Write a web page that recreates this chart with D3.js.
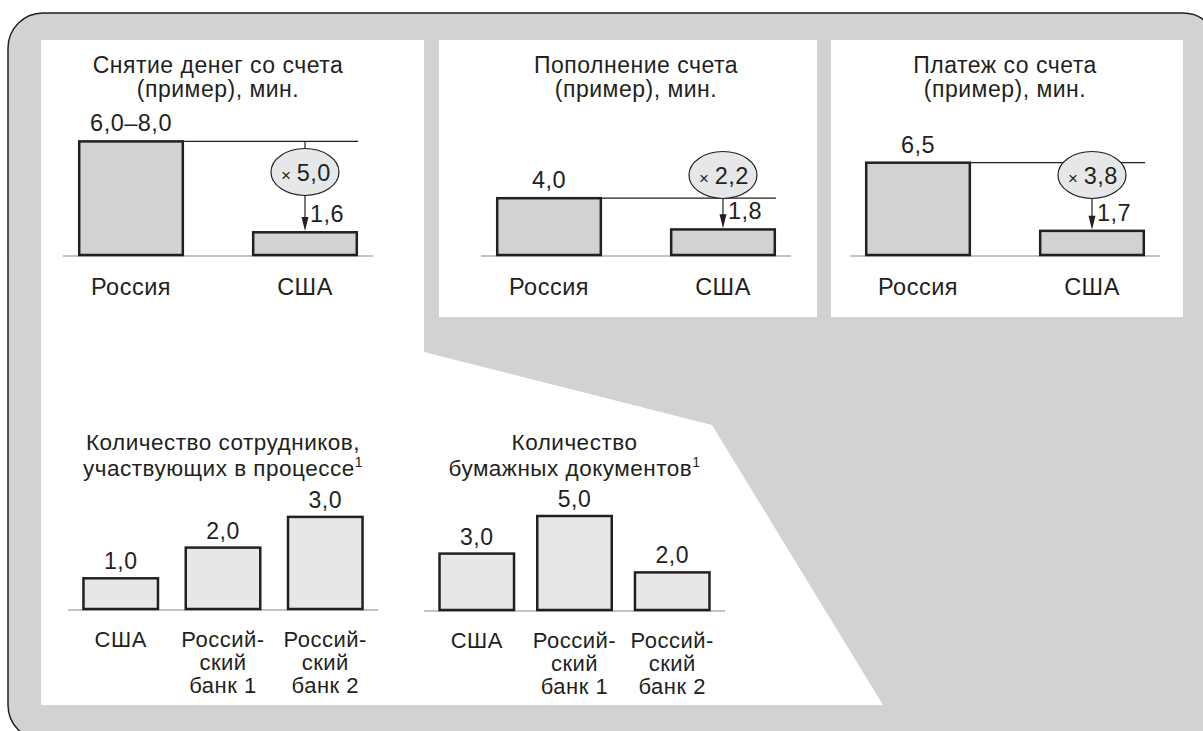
<!DOCTYPE html>
<html>
<head>
<meta charset="utf-8">
<script src="https://cdn.jsdelivr.net/npm/d3@7"></script>
<style>
  body { margin: 0; background: #fff; }
  text { font-family: "Liberation Sans", Arial, sans-serif; fill: #231f20; letter-spacing: 0.5px; }
</style>
</head>
<body>
<script>
// data
var topCategories = ["Россия", "США"];
var withdrawValues = [8.0, 1.6];
var withdrawRange = [6.0, 8.0];
var depositValues = [4.0, 1.8];
var paymentValues = [6.5, 1.7];
var topTitles = [
  ["Снятие денег со счета", "(пример), мин."],
  ["Пополнение счета", "(пример), мин."],
  ["Платеж со счета", "(пример), мин."]
];

var bottomCategories = [["США"], ["Россий-", "ский", "банк 1"], ["Россий-", "ский", "банк 2"]];
var staffValues = [1.0, 2.0, 3.0];
var docValues = [3.0, 5.0, 2.0];
var bottomTitles = [
  ["Количество сотрудников,", "участвующих в процессе"],
  ["Количество", "бумажных документов"]
];

var W = 1203, H = 731;
var ink = "#231f20", grey = "#d1d2d4", light = "#e6e7e8", axisGrey = "#c2c3c5";

var ru = d3.formatLocale({decimal: ",", thousands: " ", grouping: [3], currency: ["", ""]});
var fmt = ru.format(".1f");

var svg = d3.select("body").append("svg")
  .attr("width", W)
  .attr("height", H);

// background frame
svg.append("rect")
  .attr("x", 8).attr("y", 13)
  .attr("width", 1210).attr("height", 727)
  .attr("rx", 35).attr("ry", 35)
  .attr("fill", grey)
  .attr("stroke", ink)
  .attr("stroke-width", 1.5);

// white panels
svg.append("path")
  .attr("d", d3.line()([[41, 40], [424, 40], [424, 352], [712, 425], [883, 705], [41, 705]]) + "Z")
  .attr("fill", "#fff");
svg.append("rect").attr("x", 439).attr("y", 40).attr("width", 378).attr("height", 277).attr("fill", "#fff");
svg.append("rect").attr("x", 831).attr("y", 40).attr("width", 352).attr("height", 277).attr("fill", "#fff");

// top charts
var topCharts = [
  {values: withdrawValues, labels: [fmt(withdrawRange[0]) + "–" + fmt(withdrawRange[1]), fmt(withdrawValues[1])], range: [63, 373], ovalY: 172},
  {values: depositValues, labels: depositValues.map(fmt), range: [481, 791], ovalY: 175},
  {values: paymentValues, labels: paymentValues.map(fmt), range: [850, 1160], ovalY: 175}
];
var topBase = 255;
var yTop = d3.scaleLinear().domain([0, 8]).range([topBase, topBase - 113.6]);

topCharts.forEach(function(c, i) {
  var x = d3.scaleBand()
    .domain(topCategories)
    .range(c.range)
    .paddingInner(0.39)
    .paddingOuter(0.086);
  var g = svg.append("g");
  var mid = (c.range[0] + c.range[1]) / 2;

  g.append("text")
    .attr("x", mid).attr("y", 73)
    .attr("text-anchor", "middle")
    .style("font-size", "23px")
    .text(topTitles[i][0]);
  g.append("text")
    .attr("x", mid).attr("y", 97)
    .attr("text-anchor", "middle")
    .style("font-size", "23px")
    .text(topTitles[i][1]);

  g.append("line")
    .attr("x1", c.range[0]).attr("x2", c.range[1])
    .attr("y1", topBase + 1).attr("y2", topBase + 1)
    .attr("stroke", axisGrey).attr("stroke-width", 2);

  var rows = topCategories.map(function(k, j) { return {cat: k, v: c.values[j], label: c.labels[j]}; });

  // reference line from the Russia bar top to the US bar right edge
  var refY = yTop(rows[0].v);
  g.append("line")
    .attr("x1", x(rows[0].cat) + x.bandwidth()).attr("x2", x(rows[1].cat) + x.bandwidth())
    .attr("y1", refY).attr("y2", refY)
    .attr("stroke", ink).attr("stroke-width", 1.2);

  g.selectAll(".bar")
    .data(rows)
    .enter().append("rect")
    .attr("x", function(d) { return x(d.cat) + 1.25; })
    .attr("y", function(d) { return yTop(d.v); })
    .attr("width", x.bandwidth() - 2.5)
    .attr("height", function(d) { return topBase - yTop(d.v); })
    .attr("fill", grey)
    .attr("stroke", ink)
    .attr("stroke-width", 2.5);

  g.selectAll(".cat")
    .data(rows)
    .enter().append("text")
    .attr("x", function(d) { return x(d.cat) + x.bandwidth() / 2; })
    .attr("y", topBase + 40)
    .attr("text-anchor", "middle")
    .style("font-size", "23.5px")
    .text(function(d) { return d.cat; });

  // Russia value label
  g.append("text")
    .attr("x", x(rows[0].cat) + x.bandwidth() / 2)
    .attr("y", yTop(rows[0].v) - 10)
    .attr("text-anchor", "middle")
    .style("font-size", "23.5px")
    .text(rows[0].label);

  // arrow + ratio oval
  var cx = x(rows[1].cat) + x.bandwidth() / 2;
  var barTop = yTop(rows[1].v) - 1.2;
  g.append("line")
    .attr("x1", cx).attr("x2", cx)
    .attr("y1", refY).attr("y2", barTop - 10)
    .attr("stroke", ink).attr("stroke-width", 1.2);
  g.append("path")
    .attr("d", d3.line()([[cx - 3.5, barTop - 14], [cx + 3.5, barTop - 14], [cx, barTop]]) + "Z")
    .attr("fill", ink);
  g.append("ellipse")
    .attr("cx", cx).attr("cy", c.ovalY)
    .attr("rx", 34).attr("ry", 23.5)
    .attr("fill", light)
    .attr("stroke", ink).attr("stroke-width", 1.2);
  var t = g.append("text")
    .attr("x", cx + 1).attr("y", c.ovalY + 8.5)
    .attr("text-anchor", "middle");
  t.append("tspan").style("font-size", "17px").text("× ");
  t.append("tspan").style("font-size", "23.5px").text(fmt(rows[0].v / rows[1].v));

  g.append("text")
    .attr("x", cx + 5).attr("y", barTop - 9)
    .style("font-size", "23.5px")
    .text(rows[1].label);
});

// bottom charts
var bottomCharts = [
  {values: staffValues, range: [68, 378], base: 609, unit: 30.7, pin: 0.247, pout: 0.139},
  {values: docValues, range: [424, 725], base: 610, unit: 18.8, pin: 0.212, pout: 0.146}
];

bottomCharts.forEach(function(c, i) {
  var keys = bottomCategories.map(function(d) { return d.join(" "); });
  var x = d3.scaleBand()
    .domain(keys)
    .range(c.range)
    .paddingInner(c.pin)
    .paddingOuter(c.pout);
  var y = d3.scaleLinear().domain([0, 5]).range([c.base, c.base - 5 * c.unit]);
  var g = svg.append("g");
  var mid = (c.range[0] + c.range[1]) / 2;

  g.append("text")
    .attr("x", mid).attr("y", 450)
    .attr("text-anchor", "middle")
    .style("font-size", "22.5px")
    .text(bottomTitles[i][0]);
  var t2 = g.append("text")
    .attr("x", mid).attr("y", 476)
    .attr("text-anchor", "middle")
    .style("font-size", "22.5px");
  t2.append("tspan").text(bottomTitles[i][1]);
  t2.append("tspan").attr("dy", -9).style("font-size", "14px").text("1");

  g.append("line")
    .attr("x1", c.range[0]).attr("x2", c.range[1])
    .attr("y1", c.base + 1).attr("y2", c.base + 1)
    .attr("stroke", axisGrey).attr("stroke-width", 2);

  var rows = keys.map(function(k, j) { return {key: k, lines: bottomCategories[j], v: c.values[j]}; });

  g.selectAll(".bar")
    .data(rows)
    .enter().append("rect")
    .attr("x", function(d) { return x(d.key) + 1.25; })
    .attr("y", function(d) { return y(d.v); })
    .attr("width", x.bandwidth() - 2.5)
    .attr("height", function(d) { return c.base - y(d.v); })
    .attr("fill", light)
    .attr("stroke", ink)
    .attr("stroke-width", 2.5);

  g.selectAll(".val")
    .data(rows)
    .enter().append("text")
    .attr("x", function(d) { return x(d.key) + x.bandwidth() / 2; })
    .attr("y", function(d) { return y(d.v) - 9; })
    .attr("text-anchor", "middle")
    .style("font-size", "23px")
    .text(function(d) { return fmt(d.v); });

  // multi-line category labels, one text per line
  rows.forEach(function(d) {
    d.lines.forEach(function(l, k) {
      g.append("text")
        .attr("x", x(d.key) + x.bandwidth() / 2)
        .attr("y", c.base + 38 + k * 23)
        .attr("text-anchor", "middle")
        .style("font-size", "22px")
        .text(l);
    });
  });
});
</script>
</body>
</html>
